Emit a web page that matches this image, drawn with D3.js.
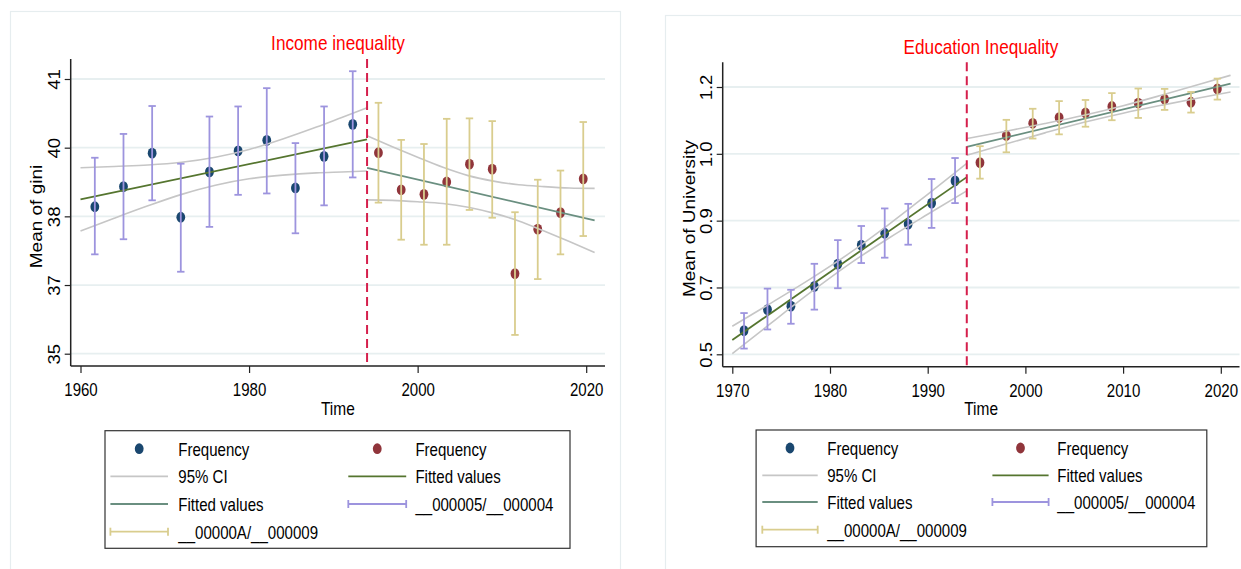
<!DOCTYPE html>
<html>
<head>
<meta charset="utf-8">
<script src="https://cdn.jsdelivr.net/npm/d3@7"></script>
<style>
  body { margin: 0; background: #fff; }
  svg { display: block; }
  text { font-family: "Liberation Sans", Arial, Helvetica, sans-serif; }
</style>
</head>
<body>
<div id="chart"></div>
<script>
// ---- income inequality (gini) ----
var giniYearsBefore = [1961.7, 1965.1, 1968.5, 1971.9, 1975.3, 1978.7, 1982.1, 1985.5, 1988.9, 1992.3];
var giniMeanBefore  = [38.21, 38.65, 39.38, 37.98, 38.97, 39.43, 39.66, 38.62, 39.31, 40.01];
var giniHiBefore    = [39.28, 39.80, 40.41, 39.15, 40.18, 40.40, 40.80, 39.60, 40.40, 41.17];
var giniLoBefore    = [37.17, 37.50, 38.35, 36.79, 37.77, 38.47, 38.50, 37.63, 38.24, 38.85];

var giniYearsAfter = [1995.35, 1998.05, 2000.75, 2003.45, 2006.15, 2008.85, 2011.55, 2014.25, 2016.95, 2019.65];
var giniMeanAfter  = [39.39, 38.58, 38.48, 38.75, 39.14, 39.03, 36.75, 37.72, 38.08, 38.82];
var giniHiAfter    = [40.48, 39.67, 39.58, 40.13, 40.14, 40.08, 38.09, 38.80, 39.00, 40.06];
var giniLoAfter    = [38.30, 37.49, 37.38, 37.38, 38.14, 37.97, 35.41, 36.63, 37.17, 37.57];

var giniFitYearsBefore = [1960, 1994];
var giniFitBefore      = [38.37, 39.68];
var giniFitYearsAfter  = [1994, 2021];
var giniFitAfter       = [39.06, 37.91];

var giniCIYearsBefore = [1960, 1964, 1968, 1972, 1976, 1980, 1984, 1988, 1991, 1994];
var giniCIUpBefore    = [39.06, 39.09, 39.12, 39.18, 39.29, 39.46, 39.69, 39.95, 40.16, 40.37];
var giniCILowBefore   = [37.68, 37.96, 38.23, 38.48, 38.68, 38.82, 38.90, 38.95, 38.97, 38.99];
var giniCIYearsAfter  = [1994, 1997, 2000, 2003, 2006, 2009, 2012, 2015, 2018, 2021];
var giniCIUpAfter     = [39.76, 39.52, 39.29, 39.07, 38.89, 38.77, 38.69, 38.65, 38.62, 38.61];
var giniCILowAfter    = [38.36, 38.35, 38.32, 38.28, 38.20, 38.07, 37.90, 37.68, 37.45, 37.21];

var giniXTicks = [1960, 1980, 2000, 2020];
var giniYTicks = [35, 36.5, 38, 39.5, 41];
var giniYLabels = ["35", "37", "38", "40", "41"];

// ---- education inequality (university) ----
var uniYearsBefore = [1971.2, 1973.6, 1976.0, 1978.4, 1980.8, 1983.2, 1985.6, 1988.0, 1990.4, 1992.8];
var uniMeanBefore  = [0.562, 0.617, 0.626, 0.678, 0.736, 0.786, 0.817, 0.841, 0.896, 0.954];
var uniHiBefore    = [0.608, 0.672, 0.669, 0.737, 0.799, 0.836, 0.882, 0.894, 0.959, 1.014];
var uniLoBefore    = [0.515, 0.565, 0.580, 0.617, 0.673, 0.739, 0.753, 0.787, 0.831, 0.896];

var uniYearsAfter = [1995.35, 1998.05, 2000.75, 2003.45, 2006.15, 2008.85, 2011.55, 2014.25, 2016.95, 2019.65];
var uniMeanAfter  = [1.002, 1.073, 1.105, 1.120, 1.132, 1.149, 1.158, 1.168, 1.160, 1.195];
var uniHiAfter    = [1.045, 1.114, 1.143, 1.163, 1.166, 1.184, 1.196, 1.195, 1.187, 1.222];
var uniLoAfter    = [0.960, 1.029, 1.065, 1.076, 1.096, 1.113, 1.119, 1.140, 1.133, 1.167];

var uniFitYearsBefore = [1970, 1994];
var uniFitBefore      = [0.5375, 0.964];
var uniFitYearsAfter  = [1994, 2021];
var uniFitAfter       = [1.043, 1.2087];

var uniCIYearsBefore = [1970, 1974, 1978, 1982, 1986, 1990, 1994];
var uniCIUpBefore    = [0.5735, 0.6348, 0.6975, 0.7648, 0.8396, 0.9191, 1.000];
var uniCILowBefore   = [0.5015, 0.5824, 0.6619, 0.7368, 0.8040, 0.8667, 0.928];
var uniCIYearsAfter  = [1994, 1998, 2002, 2006, 2010, 2014, 2018, 2021];
var uniCIUpAfter     = [1.065, 1.0843, 1.1043, 1.1259, 1.1509, 1.1790, 1.2083, 1.2307];
var uniCILowAfter    = [1.021, 1.0508, 1.0799, 1.1075, 1.1315, 1.1526, 1.1723, 1.1867];

var uniXTicks = [1970, 1980, 1990, 2000, 2010, 2020];
var uniYTicks = [0.5, 0.675, 0.85, 1.025, 1.2];
var uniYLabels = ["0.5", "0.7", "0.9", "1.0", "1.2"];

var cutoffYear = 1994;

var legendLabels = ["Frequency", "Frequency", "95% CI", "Fitted values", "Fitted values",
                    "__000005/__000004", "__00000A/__000009"];

var colors = {
    blue: "#1a476f", red: "#90353b", ci: "#c6c6c6", fitA: "#55752f", fitB: "#6a8f80",
    barA: "#9d94de", barB: "#d9cd8e", cut: "#d51f4c", grid: "#e7eff0"
};

var SX = 0.86;  // narrow look of the original text

var svg = d3.select("#chart").append("svg")
    .attr("width", 1241)
    .attr("height", 569);

svg.append("rect").attr("width", 1241).attr("height", 569).attr("fill", "#fff");

function htext(parent, x, y, str, size, color, anchor) {
    return parent.append("text")
        .attr("transform", "translate(" + x + "," + y + ") scale(" + SX + ",1)")
        .attr("text-anchor", anchor || "start")
        .style("font-size", size + "px")
        .style("fill", color || "#000")
        .text(str);
}

function vtext(parent, x, y, str, size) {
    return parent.append("text")
        .attr("transform", "translate(" + x + "," + y + ") rotate(-90) scale(1," + SX + ")")
        .attr("text-anchor", "middle")
        .style("font-size", size + "px")
        .style("fill", "#000")
        .text(str);
}

function drawPanel(p) {
    var g = svg.append("g");

    // panel frame
    g.append("rect")
        .attr("x", p.frame[0]).attr("y", p.frame[1])
        .attr("width", p.frame[2]).attr("height", p.frame[3])
        .attr("fill", "#fff")
        .attr("stroke", "#e6edef")
        .attr("stroke-width", 1.2);

    var x = d3.scaleLinear()
        .domain([p.xTicks[0], p.xTicks[p.xTicks.length - 1]])
        .range(p.xRange);
    var y = d3.scaleLinear()
        .domain([p.yTicks[0], p.yTicks[p.yTicks.length - 1]])
        .range(p.yRange);

    // gridlines
    g.selectAll(".grid").data(p.yTicks).enter().append("line")
        .attr("x1", p.axisLeft).attr("x2", p.plotRight)
        .attr("y1", y).attr("y2", y)
        .style("stroke", colors.grid)
        .style("stroke-width", 1.8);

    // axes
    var yAxis = g.append("g")
        .attr("transform", "translate(" + p.axisLeft + ",0)")
        .call(d3.axisLeft(y).tickValues(p.yTicks).tickSize(6)
            .tickFormat(function(d, i) { return p.yLabels[i]; }));
    yAxis.select(".domain").remove();
    yAxis.selectAll("line").style("stroke", "#222").style("stroke-width", 1.2);
    yAxis.selectAll("text")
        .attr("x", null).attr("dy", null)
        .attr("transform", "translate(-11,0) rotate(-90) scale(1," + SX + ")")
        .attr("text-anchor", "middle")
        .style("font-size", "18.5px")
        .style("font-family", "Liberation Sans, Arial, sans-serif")
        .style("fill", "#000");

    var xAxis = g.append("g")
        .attr("transform", "translate(0," + p.axisBottom + ")")
        .call(d3.axisBottom(x).tickValues(p.xTicks).tickSize(7).tickFormat(d3.format("d")));
    xAxis.select(".domain").remove();
    xAxis.selectAll("line").style("stroke", "#222").style("stroke-width", 1.2);
    xAxis.selectAll("text")
        .attr("y", 30).attr("dy", null)
        .attr("transform", "scale(" + SX + ",1)")
        .style("font-size", "17.5px")
        .style("font-family", "Liberation Sans, Arial, sans-serif")
        .style("fill", "#000");

    g.append("line")
        .attr("x1", p.axisLeft).attr("x2", p.axisLeft)
        .attr("y1", p.axisTop).attr("y2", p.axisBottom)
        .style("stroke", "#222").style("stroke-width", 1.5);
    g.append("line")
        .attr("x1", p.axisLeft).attr("x2", p.plotRight)
        .attr("y1", p.axisBottom).attr("y2", p.axisBottom)
        .style("stroke", "#222").style("stroke-width", 1.5);

    // axis titles
    vtext(g, p.yTitleX, (p.axisTop + p.axisBottom) / 2 + 4, p.yTitle, 19);
    htext(g, (p.axisLeft + p.plotRight) / 2, 415, "Time", 18, "#000", "middle");
    htext(g, p.titleX, p.titleY, p.title, 20, "#ff0000", "middle");

    // markers
    function dots(years, vals, col) {
        g.append("g").selectAll("ellipse")
            .data(d3.zip(years, vals)).enter().append("ellipse")
            .attr("cx", function(d) { return x(d[0]); })
            .attr("cy", function(d) { return y(d[1]); })
            .attr("rx", 4.4).attr("ry", 5.4)
            .attr("fill", col);
    }
    dots(p.yearsA, p.meanA, colors.blue);
    dots(p.yearsB, p.meanB, colors.red);

    // confidence bands
    var curve = d3.line()
        .x(function(d) { return x(d[0]); })
        .y(function(d) { return y(d[1]); })
        .curve(d3.curveMonotoneX);
    [[p.ciYearsA, p.ciUpA], [p.ciYearsA, p.ciLowA], [p.ciYearsB, p.ciUpB], [p.ciYearsB, p.ciLowB]]
        .forEach(function(s) {
            g.append("path")
                .datum(d3.zip(s[0], s[1]))
                .attr("d", curve)
                .attr("fill", "none")
                .attr("stroke", colors.ci)
                .attr("stroke-width", 1.6);
        });

    // fitted values
    [[p.fitYearsA, p.fitA, colors.fitA], [p.fitYearsB, p.fitB, colors.fitB]].forEach(function(s) {
        g.append("path")
            .datum(d3.zip(s[0], s[1]))
            .attr("d", curve)
            .attr("fill", "none")
            .attr("stroke", s[2])
            .attr("stroke-width", 1.8);
    });

    // error bars
    function bars(years, hi, lo, col) {
        var b = g.append("g")
            .selectAll("g").data(d3.zip(years, hi, lo)).enter().append("g")
            .style("stroke", col).style("stroke-width", 1.8);
        b.append("line")
            .attr("x1", function(d) { return x(d[0]); }).attr("x2", function(d) { return x(d[0]); })
            .attr("y1", function(d) { return y(d[1]); }).attr("y2", function(d) { return y(d[2]); });
        [1, 2].forEach(function(k) {
            b.append("line")
                .attr("x1", function(d) { return x(d[0]) - 3.7; })
                .attr("x2", function(d) { return x(d[0]) + 3.7; })
                .attr("y1", function(d) { return y(d[k]); })
                .attr("y2", function(d) { return y(d[k]); });
        });
    }
    bars(p.yearsA, p.hiA, p.loA, colors.barA);
    bars(p.yearsB, p.hiB, p.loB, colors.barB);

    // cutoff line
    g.append("line")
        .attr("x1", x(cutoffYear)).attr("x2", x(cutoffYear))
        .attr("y1", p.axisTop).attr("y2", p.axisBottom)
        .style("stroke", colors.cut)
        .style("stroke-width", 2)
        .style("stroke-dasharray", "9,5");

    // legend
    var L = p.legend;
    g.append("rect")
        .attr("x", L.box[0]).attr("y", L.box[1])
        .attr("width", L.box[2] - L.box[0]).attr("height", L.box[3] - L.box[1])
        .attr("fill", "#fff").attr("stroke", "#333").attr("stroke-width", 1.2);

    var kinds = ["dot", "dot", "line", "line", "line", "bar", "bar"];
    var kcols = [colors.blue, colors.red, colors.ci, colors.fitA, colors.fitB, colors.barA, colors.barB];
    legendLabels.forEach(function(lab, i) {
        var col = i % 2 === 0 ? L.col1 : L.col2;
        var base = L.rows[Math.floor(i / 2)];
        var cy = base - 7;
        if (kinds[i] === "dot") {
            g.append("ellipse").attr("cx", (col.line[0] + col.line[1]) / 2).attr("cy", cy)
                .attr("rx", 4.4).attr("ry", 5.4).attr("fill", kcols[i]);
        } else {
            g.append("line").attr("x1", col.line[0]).attr("x2", col.line[1])
                .attr("y1", cy).attr("y2", cy)
                .style("stroke", kcols[i]).style("stroke-width", 1.8);
            if (kinds[i] === "bar") {
                col.line.forEach(function(xx) {
                    g.append("line").attr("x1", xx).attr("x2", xx)
                        .attr("y1", cy - 4).attr("y2", cy + 4)
                        .style("stroke", kcols[i]).style("stroke-width", 1.8);
                });
            }
        }
        htext(g, col.text, base, lab, 17.5);
    });
}

drawPanel({
    frame: [10.5, 11.5, 610, 580],
    xTicks: giniXTicks, xRange: [80.5, 586.2],
    yTicks: giniYTicks, yLabels: giniYLabels, yRange: [353.7, 79],
    axisLeft: 70.7, axisTop: 59, axisBottom: 366, plotRight: 605,
    yTitle: "Mean of gini", yTitleX: 42,
    title: "Income inequality", titleX: 338, titleY: 50,
    yearsA: giniYearsBefore, meanA: giniMeanBefore, hiA: giniHiBefore, loA: giniLoBefore,
    yearsB: giniYearsAfter, meanB: giniMeanAfter, hiB: giniHiAfter, loB: giniLoAfter,
    fitYearsA: giniFitYearsBefore, fitA: giniFitBefore,
    fitYearsB: giniFitYearsAfter, fitB: giniFitAfter,
    ciYearsA: giniCIYearsBefore, ciUpA: giniCIUpBefore, ciLowA: giniCILowBefore,
    ciYearsB: giniCIYearsAfter, ciUpB: giniCIUpAfter, ciLowB: giniCILowAfter,
    legend: {
        box: [105, 430.7, 570, 548.3],
        col1: { line: [110.4, 168], text: 178.3 },
        col2: { line: [348.3, 406.2], text: 415.4 },
        rows: [455.7, 483.3, 511, 538.7]
    }
});

drawPanel({
    frame: [665.5, 15.5, 600, 580],
    xTicks: uniXTicks, xRange: [732.3, 1220.8],
    yTicks: uniYTicks, yLabels: uniYLabels, yRange: [354.3, 87],
    axisLeft: 722.7, axisTop: 62.3, axisBottom: 366.7, plotRight: 1239.5,
    yTitle: "Mean of University", yTitleX: 695,
    title: "Education Inequality", titleX: 981, titleY: 53.5,
    yearsA: uniYearsBefore, meanA: uniMeanBefore, hiA: uniHiBefore, loA: uniLoBefore,
    yearsB: uniYearsAfter, meanB: uniMeanAfter, hiB: uniHiAfter, loB: uniLoAfter,
    fitYearsA: uniFitYearsBefore, fitA: uniFitBefore,
    fitYearsB: uniFitYearsAfter, fitB: uniFitAfter,
    ciYearsA: uniCIYearsBefore, ciUpA: uniCIUpBefore, ciLowA: uniCILowBefore,
    ciYearsB: uniCIYearsAfter, ciUpB: uniCIUpAfter, ciLowB: uniCILowAfter,
    legend: {
        box: [756.1, 430, 1206.8, 546.7],
        col1: { line: [762.3, 817.7], text: 827.2 },
        col2: { line: [992.4, 1048.6], text: 1057.3 },
        rows: [455, 482.3, 509, 536.7]
    }
});
</script>
</body>
</html>
